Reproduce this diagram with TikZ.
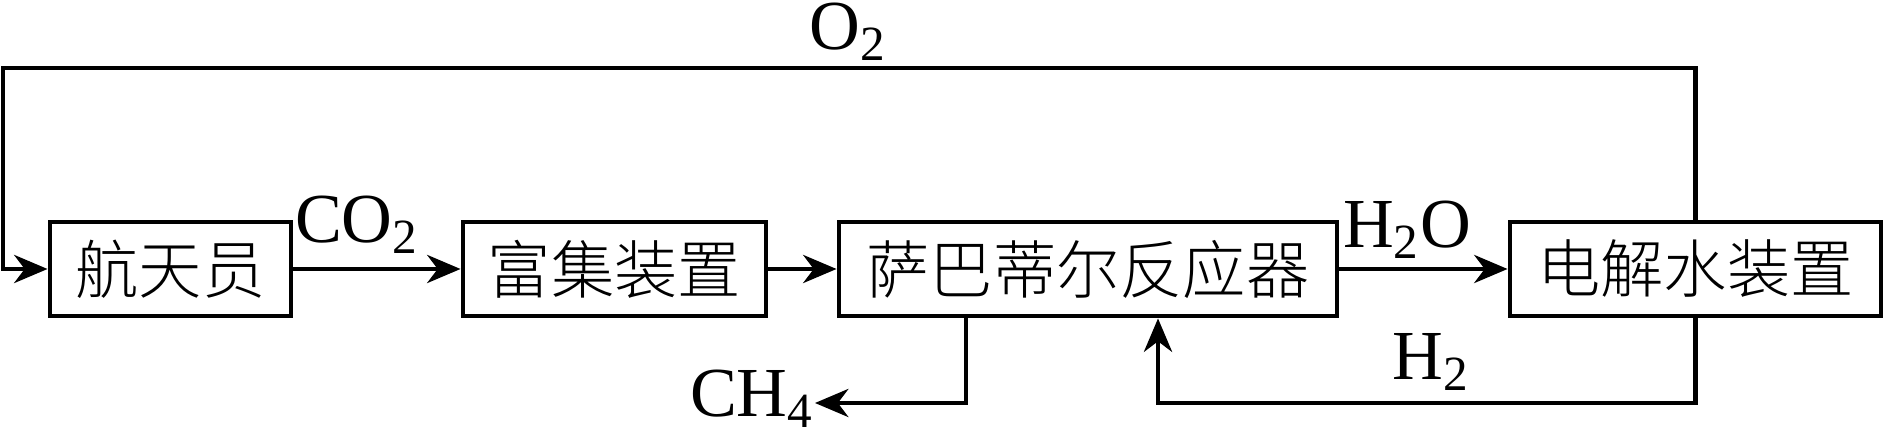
\documentclass[tikz,border=0pt]{standalone}
\usepackage{fontspec}
\setmainfont{Liberation Serif}
\newfontfamily\cjk{Noto Sans CJK SC}[UprightFont={* Light}]
\usepackage{tikz}
\usetikzlibrary{arrows.meta}

\begin{document}
\begin{tikzpicture}[
    unit/.style={draw, line width=1.4pt, minimum height=0.94cm, inner sep=0pt,
        font=\cjk\fontsize{18pt}{20pt}\selectfont},
    flow/.style={line width=1.2pt, -{Stealth[length=9.5pt, width=8pt, inset=3pt]}},
    gas/.style={anchor=base, inner sep=0pt, font=\fontsize{20pt}{22pt}\selectfont}
]
    \useasboundingbox (0,0) rectangle (18.85,4.36);

    \node[unit, minimum width=2.41cm] (astro) at (1.705,1.67) {航天员};
    \node[unit, minimum width=3.03cm] (enrich) at (6.145,1.67) {富集装置};
    \node[unit, minimum width=4.98cm] (sabatier) at (10.88,1.67) {萨巴蒂尔反应器};
    \node[unit, minimum width=3.71cm] (electro) at (16.955,1.67) {电解水装置};

    \node[gas] (co2) at (3.57,1.93) {CO\textsubscript{2}};
    \node[gas] (h2o) at (14.07,1.88) {H\textsubscript{2}O};
    \node[gas] (o2) at (8.48,3.86) {O\textsubscript{2}};
    \node[gas] (h2) at (14.31,0.56) {H\textsubscript{2}};
    \node[gas] (ch4) at (7.52,0.19) {CH\textsubscript{4}};

    \draw[flow] (astro) -- (enrich);
    \draw[flow] (enrich) -- (sabatier);
    \draw[flow] (sabatier) -- (electro);

    % O2 back to the astronaut
    \coordinate (otop) at (0.03,3.68);
    \draw[flow] (electro.north) |- (otop) |- (astro.west);

    % H2 back to the reactor
    \coordinate (hbot) at (11.58,0.33);
    \draw[flow] (electro.south) |- (hbot) -- (hbot |- sabatier.south);

    % CH4 out
    \coordinate (cturn) at (9.66,0.33);
    \coordinate (ctip) at (8.15,0.33);
    \draw[flow] (cturn |- sabatier.south) -- (cturn) -- (ctip);
\end{tikzpicture}
\end{document}
